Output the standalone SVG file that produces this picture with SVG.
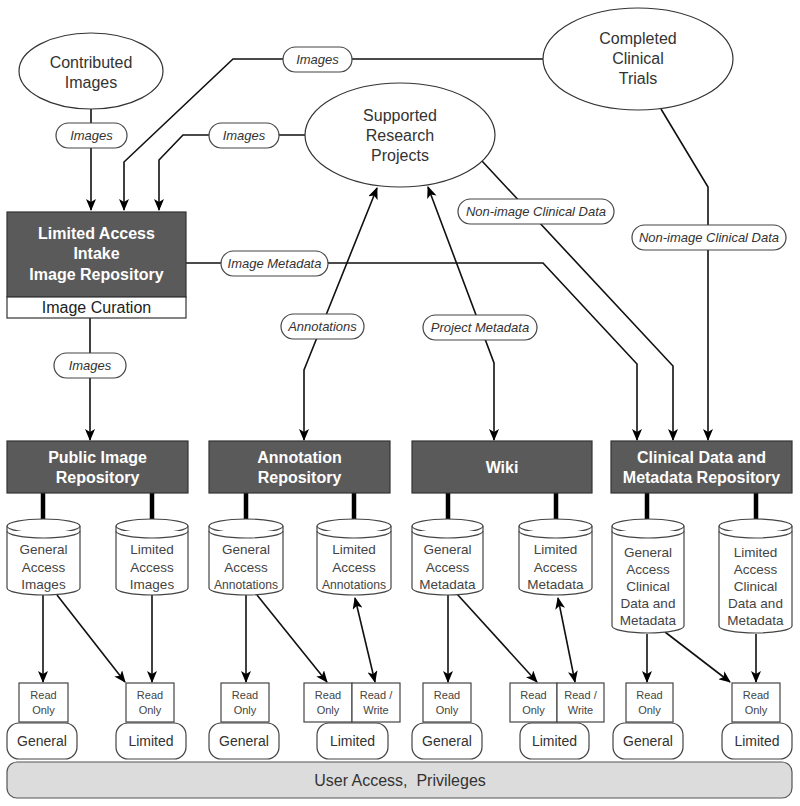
<svg xmlns="http://www.w3.org/2000/svg" width="800" height="806" viewBox="0 0 800 806">
<defs>
<style>
text{font-family:"Liberation Sans",Arial,sans-serif;text-anchor:middle}
.ell{fill:#fff;stroke:#333;stroke-width:1.2}
.et{font-size:16px;fill:#333}
.box{fill:#5a5a5a;stroke:#333;stroke-width:1.2}
.bt{font-size:16px;font-weight:bold;fill:#fff}
.pill{fill:#fff;stroke:#444;stroke-width:1.2}
.pt{font-size:13px;font-style:italic;fill:#333}
.ln{fill:none;stroke:#111;stroke-width:1.6}
.thick{fill:none;stroke:#000;stroke-width:4.5}
.cyl{fill:#fff;stroke:#444;stroke-width:1.2}
.ct{font-size:13.5px;fill:#444}
.ro{fill:#fff;stroke:#444;stroke-width:1.2}
.rt{font-size:11px;fill:#444}
.up{fill:#fff;stroke:#444;stroke-width:1.2}
.ut{font-size:14px;fill:#333}
</style>
<marker id="ah" viewBox="0 0 12 10" refX="11" refY="5" markerWidth="12" markerHeight="10" markerUnits="userSpaceOnUse" orient="auto-start-reverse">
<path d="M0,0 L12,5 L0,10 L3,5 z" fill="#000"/>
</marker>
</defs>
<rect width="800" height="806" fill="#fff"/>

<g id="connectors">
<path class="ln" d="M91,109 V210" marker-end="url(#ah)"/>
<path class="ln" d="M543,59 H233 L124,162 V210" marker-end="url(#ah)"/>
<path class="ln" d="M305,135 H183 L159,160 V210" marker-end="url(#ah)"/>
<path class="ln" d="M90,318 V440" marker-end="url(#ah)"/>
<path class="ln" d="M186,263 H543 L637,364 V440" marker-end="url(#ah)"/>
<path class="ln" d="M377,188 L306,365 L304,370 V440" marker-start="url(#ah)" marker-end="url(#ah)"/>
<path class="ln" d="M428,187 L494,363 V440" marker-start="url(#ah)" marker-end="url(#ah)"/>
<path class="ln" d="M482,161 L673,366 V440" marker-end="url(#ah)"/>
<path class="ln" d="M661,109 L708,187 V440" marker-end="url(#ah)"/>

<path class="thick" d="M43,493 V520 M152,493 V520 M246,493 V520 M354,493 V520 M448,493 V520 M556,493 V520 M647,493 V520 M756,493 V520"/>

<path class="ln" d="M43,595 V682" marker-end="url(#ah)"/>
<path class="ln" d="M57,595 L125,682" marker-end="url(#ah)"/>
<path class="ln" d="M152,595 V682" marker-end="url(#ah)"/>
<path class="ln" d="M246,595 V682" marker-end="url(#ah)"/>
<path class="ln" d="M257,595 L327,682" marker-end="url(#ah)"/>
<path class="ln" d="M355,598 L375,682" marker-start="url(#ah)" marker-end="url(#ah)"/>
<path class="ln" d="M448,595 V682" marker-end="url(#ah)"/>
<path class="ln" d="M457,594 L537,682" marker-end="url(#ah)"/>
<path class="ln" d="M558,598 L575,682" marker-start="url(#ah)" marker-end="url(#ah)"/>
<path class="ln" d="M647,634 V682" marker-end="url(#ah)"/>
<path class="ln" d="M665,632 L730,682" marker-end="url(#ah)"/>
<path class="ln" d="M756,634 V682" marker-end="url(#ah)"/>

<g id="label-images-1"><rect class="pill" x="56" y="123" width="71" height="25" rx="12.5"/><text class="pt" x="91.5" y="140">Images</text></g>
<g id="label-images-2"><rect class="pill" x="283" y="47" width="69" height="25" rx="12.5"/><text class="pt" x="317.5" y="64">Images</text></g>
<g id="label-images-3"><rect class="pill" x="209" y="123" width="70" height="25" rx="12.5"/><text class="pt" x="244" y="140">Images</text></g>
<g id="label-images-4"><rect class="pill" x="54" y="353" width="72" height="25" rx="12.5"/><text class="pt" x="90" y="370">Images</text></g>
<g id="label-image-metadata"><rect class="pill" x="221" y="251" width="107" height="25" rx="12.5"/><text class="pt" x="274.5" y="268">Image Metadata</text></g>
<g id="label-annotations"><rect class="pill" x="281" y="314" width="83" height="25" rx="12.5"/><text class="pt" x="322.5" y="331">Annotations</text></g>
<g id="label-project-metadata"><rect class="pill" x="423" y="315" width="114" height="25" rx="12.5"/><text class="pt" x="480" y="332">Project Metadata</text></g>
<g id="label-nonimage-1"><rect class="pill" x="458" y="199" width="156" height="25" rx="12.5"/><text class="pt" x="536" y="216">Non-image Clinical Data</text></g>
<g id="label-nonimage-2"><rect class="pill" x="632" y="225" width="154" height="25" rx="12.5"/><text class="pt" x="709" y="242">Non-image Clinical Data</text></g>
</g>

<g id="contributed-images"><ellipse class="ell" cx="91" cy="71" rx="72" ry="38"/><text class="et" x="91" y="68">Contributed</text><text class="et" x="91" y="88">Images</text></g>
<g id="completed-clinical-trials"><ellipse class="ell" cx="638" cy="59" rx="95" ry="51"/><text class="et" x="638" y="44">Completed</text><text class="et" x="638" y="64">Clinical</text><text class="et" x="638" y="84">Trials</text></g>
<g id="supported-research-projects"><ellipse class="ell" cx="400" cy="135" rx="95" ry="52"/><text class="et" x="400" y="121">Supported</text><text class="et" x="400" y="141">Research</text><text class="et" x="400" y="161">Projects</text></g>

<g id="intake-repository">
<rect class="box" x="7" y="212" width="179" height="85"/>
<rect fill="#fff" stroke="#333" stroke-width="1.2" x="7" y="297" width="179" height="21"/>
<text class="bt" x="96.5" y="239">Limited Access</text><text class="bt" x="96.5" y="259">Intake</text><text class="bt" x="96.5" y="280">Image Repository</text>
<text class="et" x="96.5" y="313" style="fill:#222">Image Curation</text>
</g>

<g id="public-image-repository"><rect class="box" x="7" y="441" width="181" height="52"/><text class="bt" x="97.5" y="463">Public Image</text><text class="bt" x="97.5" y="483">Repository</text></g>
<g id="annotation-repository"><rect class="box" x="209" y="441" width="181" height="52"/><text class="bt" x="299.5" y="463">Annotation</text><text class="bt" x="299.5" y="483">Repository</text></g>
<g id="wiki"><rect class="box" x="412" y="441" width="180" height="52"/><text class="bt" x="502" y="473">Wiki</text></g>
<g id="clinical-repository"><rect class="box" x="611" y="441" width="181" height="52"/><text class="bt" x="701.5" y="463">Clinical Data and</text><text class="bt" x="701.5" y="483">Metadata Repository</text></g>

<g id="cyl-general-images">
<path class="cyl" d="M7,526 V588 A36.5,7 0 0 0 80,588 V526"/><ellipse class="cyl" cx="43.5" cy="526" rx="36.5" ry="7"/><path class="cyl" d="M7,531 A36.5,7 0 0 0 80,531" fill="none"/>
<text class="ct" x="43.5" y="554">General</text><text class="ct" x="43.5" y="572">Access</text><text class="ct" x="43.5" y="589">Images</text>
</g>
<g id="cyl-limited-images">
<path class="cyl" d="M116,526 V588 A36,7 0 0 0 188,588 V526"/><ellipse class="cyl" cx="152" cy="526" rx="36" ry="7"/><path class="cyl" d="M116,531 A36,7 0 0 0 188,531" fill="none"/>
<text class="ct" x="152" y="554">Limited</text><text class="ct" x="152" y="572">Access</text><text class="ct" x="152" y="589">Images</text>
</g>
<g id="cyl-general-annotations">
<path class="cyl" d="M209,526 V588 A37,7 0 0 0 283,588 V526"/><ellipse class="cyl" cx="246" cy="526" rx="37" ry="7"/><path class="cyl" d="M209,531 A37,7 0 0 0 283,531" fill="none"/>
<text class="ct" x="246" y="554">General</text><text class="ct" x="246" y="572">Access</text><text class="ct" x="246" y="589" textLength="64" lengthAdjust="spacingAndGlyphs">Annotations</text>
</g>
<g id="cyl-limited-annotations">
<path class="cyl" d="M317,526 V588 A37,7 0 0 0 391,588 V526"/><ellipse class="cyl" cx="354" cy="526" rx="37" ry="7"/><path class="cyl" d="M317,531 A37,7 0 0 0 391,531" fill="none"/>
<text class="ct" x="354" y="554">Limited</text><text class="ct" x="354" y="572">Access</text><text class="ct" x="354" y="589" textLength="64" lengthAdjust="spacingAndGlyphs">Annotations</text>
</g>
<g id="cyl-general-metadata">
<path class="cyl" d="M412,526 V588 A35.5,7 0 0 0 483,588 V526"/><ellipse class="cyl" cx="447.5" cy="526" rx="35.5" ry="7"/><path class="cyl" d="M412,531 A35.5,7 0 0 0 483,531" fill="none"/>
<text class="ct" x="447.5" y="554">General</text><text class="ct" x="447.5" y="572">Access</text><text class="ct" x="447.5" y="589">Metadata</text>
</g>
<g id="cyl-limited-metadata">
<path class="cyl" d="M519,526 V588 A36.5,7 0 0 0 592,588 V526"/><ellipse class="cyl" cx="555.5" cy="526" rx="36.5" ry="7"/><path class="cyl" d="M519,531 A36.5,7 0 0 0 592,531" fill="none"/>
<text class="ct" x="555.5" y="554">Limited</text><text class="ct" x="555.5" y="572">Access</text><text class="ct" x="555.5" y="589">Metadata</text>
</g>
<g id="cyl-general-clinical">
<path class="cyl" d="M612,526 V626 A36,7 0 0 0 684,626 V526"/><ellipse class="cyl" cx="648" cy="526" rx="36" ry="7"/><path class="cyl" d="M612,531 A36,7 0 0 0 684,531" fill="none"/>
<text class="ct" x="648" y="557">General</text><text class="ct" x="648" y="574">Access</text><text class="ct" x="648" y="591">Clinical</text><text class="ct" x="648" y="608">Data and</text><text class="ct" x="648" y="625">Metadata</text>
</g>
<g id="cyl-limited-clinical">
<path class="cyl" d="M719,526 V626 A36.5,7 0 0 0 792,626 V526"/><ellipse class="cyl" cx="755.5" cy="526" rx="36.5" ry="7"/><path class="cyl" d="M719,531 A36.5,7 0 0 0 792,531" fill="none"/>
<text class="ct" x="755.5" y="557">Limited</text><text class="ct" x="755.5" y="574">Access</text><text class="ct" x="755.5" y="591">Clinical</text><text class="ct" x="755.5" y="608">Data and</text><text class="ct" x="755.5" y="625">Metadata</text>
</g>

<g id="user-access"><rect x="7" y="762" width="785" height="36" rx="10" fill="#dcdcdc" stroke="#555" stroke-width="1.2"/><text x="400" y="786" style="font-size:16px;fill:#333">User Access,&#160; Privileges</text></g>

<g id="general-1"><rect class="up" x="7" y="723" width="70" height="36" rx="12"/><text class="ut" x="42" y="746">General</text></g>
<g id="limited-1"><rect class="up" x="116" y="723" width="70" height="36" rx="12"/><text class="ut" x="151" y="746">Limited</text></g>
<g id="general-2"><rect class="up" x="209" y="723" width="70" height="36" rx="12"/><text class="ut" x="244" y="746">General</text></g>
<g id="limited-2"><rect class="up" x="317" y="723" width="71" height="36" rx="12"/><text class="ut" x="352.5" y="746">Limited</text></g>
<g id="general-3"><rect class="up" x="412" y="723" width="70" height="36" rx="12"/><text class="ut" x="447" y="746">General</text></g>
<g id="limited-3"><rect class="up" x="520" y="723" width="69" height="36" rx="12"/><text class="ut" x="554.5" y="746">Limited</text></g>
<g id="general-4"><rect class="up" x="613" y="723" width="70" height="36" rx="12"/><text class="ut" x="648" y="746">General</text></g>
<g id="limited-4"><rect class="up" x="722" y="723" width="70" height="36" rx="12"/><text class="ut" x="757" y="746">Limited</text></g>

<g id="ro-1"><rect class="ro" x="19" y="683" width="49" height="39"/><text class="rt" x="43.5" y="699">Read</text><text class="rt" x="43.5" y="714">Only</text></g>
<g id="ro-2"><rect class="ro" x="126" y="683" width="48" height="39"/><text class="rt" x="150" y="699">Read</text><text class="rt" x="150" y="714">Only</text></g>
<g id="ro-3"><rect class="ro" x="221" y="683" width="48" height="39"/><text class="rt" x="245" y="699">Read</text><text class="rt" x="245" y="714">Only</text></g>
<g id="ro-4"><rect class="ro" x="304" y="683" width="48" height="39"/><text class="rt" x="328" y="699">Read</text><text class="rt" x="328" y="714">Only</text></g>
<g id="rw-4"><rect class="ro" x="352" y="683" width="48" height="39"/><text class="rt" x="376" y="699">Read /</text><text class="rt" x="376" y="714">Write</text></g>
<g id="ro-5"><rect class="ro" x="423" y="683" width="48" height="39"/><text class="rt" x="447" y="699">Read</text><text class="rt" x="447" y="714">Only</text></g>
<g id="ro-6"><rect class="ro" x="510" y="683" width="47" height="39"/><text class="rt" x="533.5" y="699">Read</text><text class="rt" x="533.5" y="714">Only</text></g>
<g id="rw-6"><rect class="ro" x="557" y="683" width="47" height="39"/><text class="rt" x="580.5" y="699">Read /</text><text class="rt" x="580.5" y="714">Write</text></g>
<g id="ro-7"><rect class="ro" x="626" y="683" width="47" height="39"/><text class="rt" x="649.5" y="699">Read</text><text class="rt" x="649.5" y="714">Only</text></g>
<g id="ro-8"><rect class="ro" x="732" y="683" width="48" height="39"/><text class="rt" x="756" y="699">Read</text><text class="rt" x="756" y="714">Only</text></g>
</svg>
